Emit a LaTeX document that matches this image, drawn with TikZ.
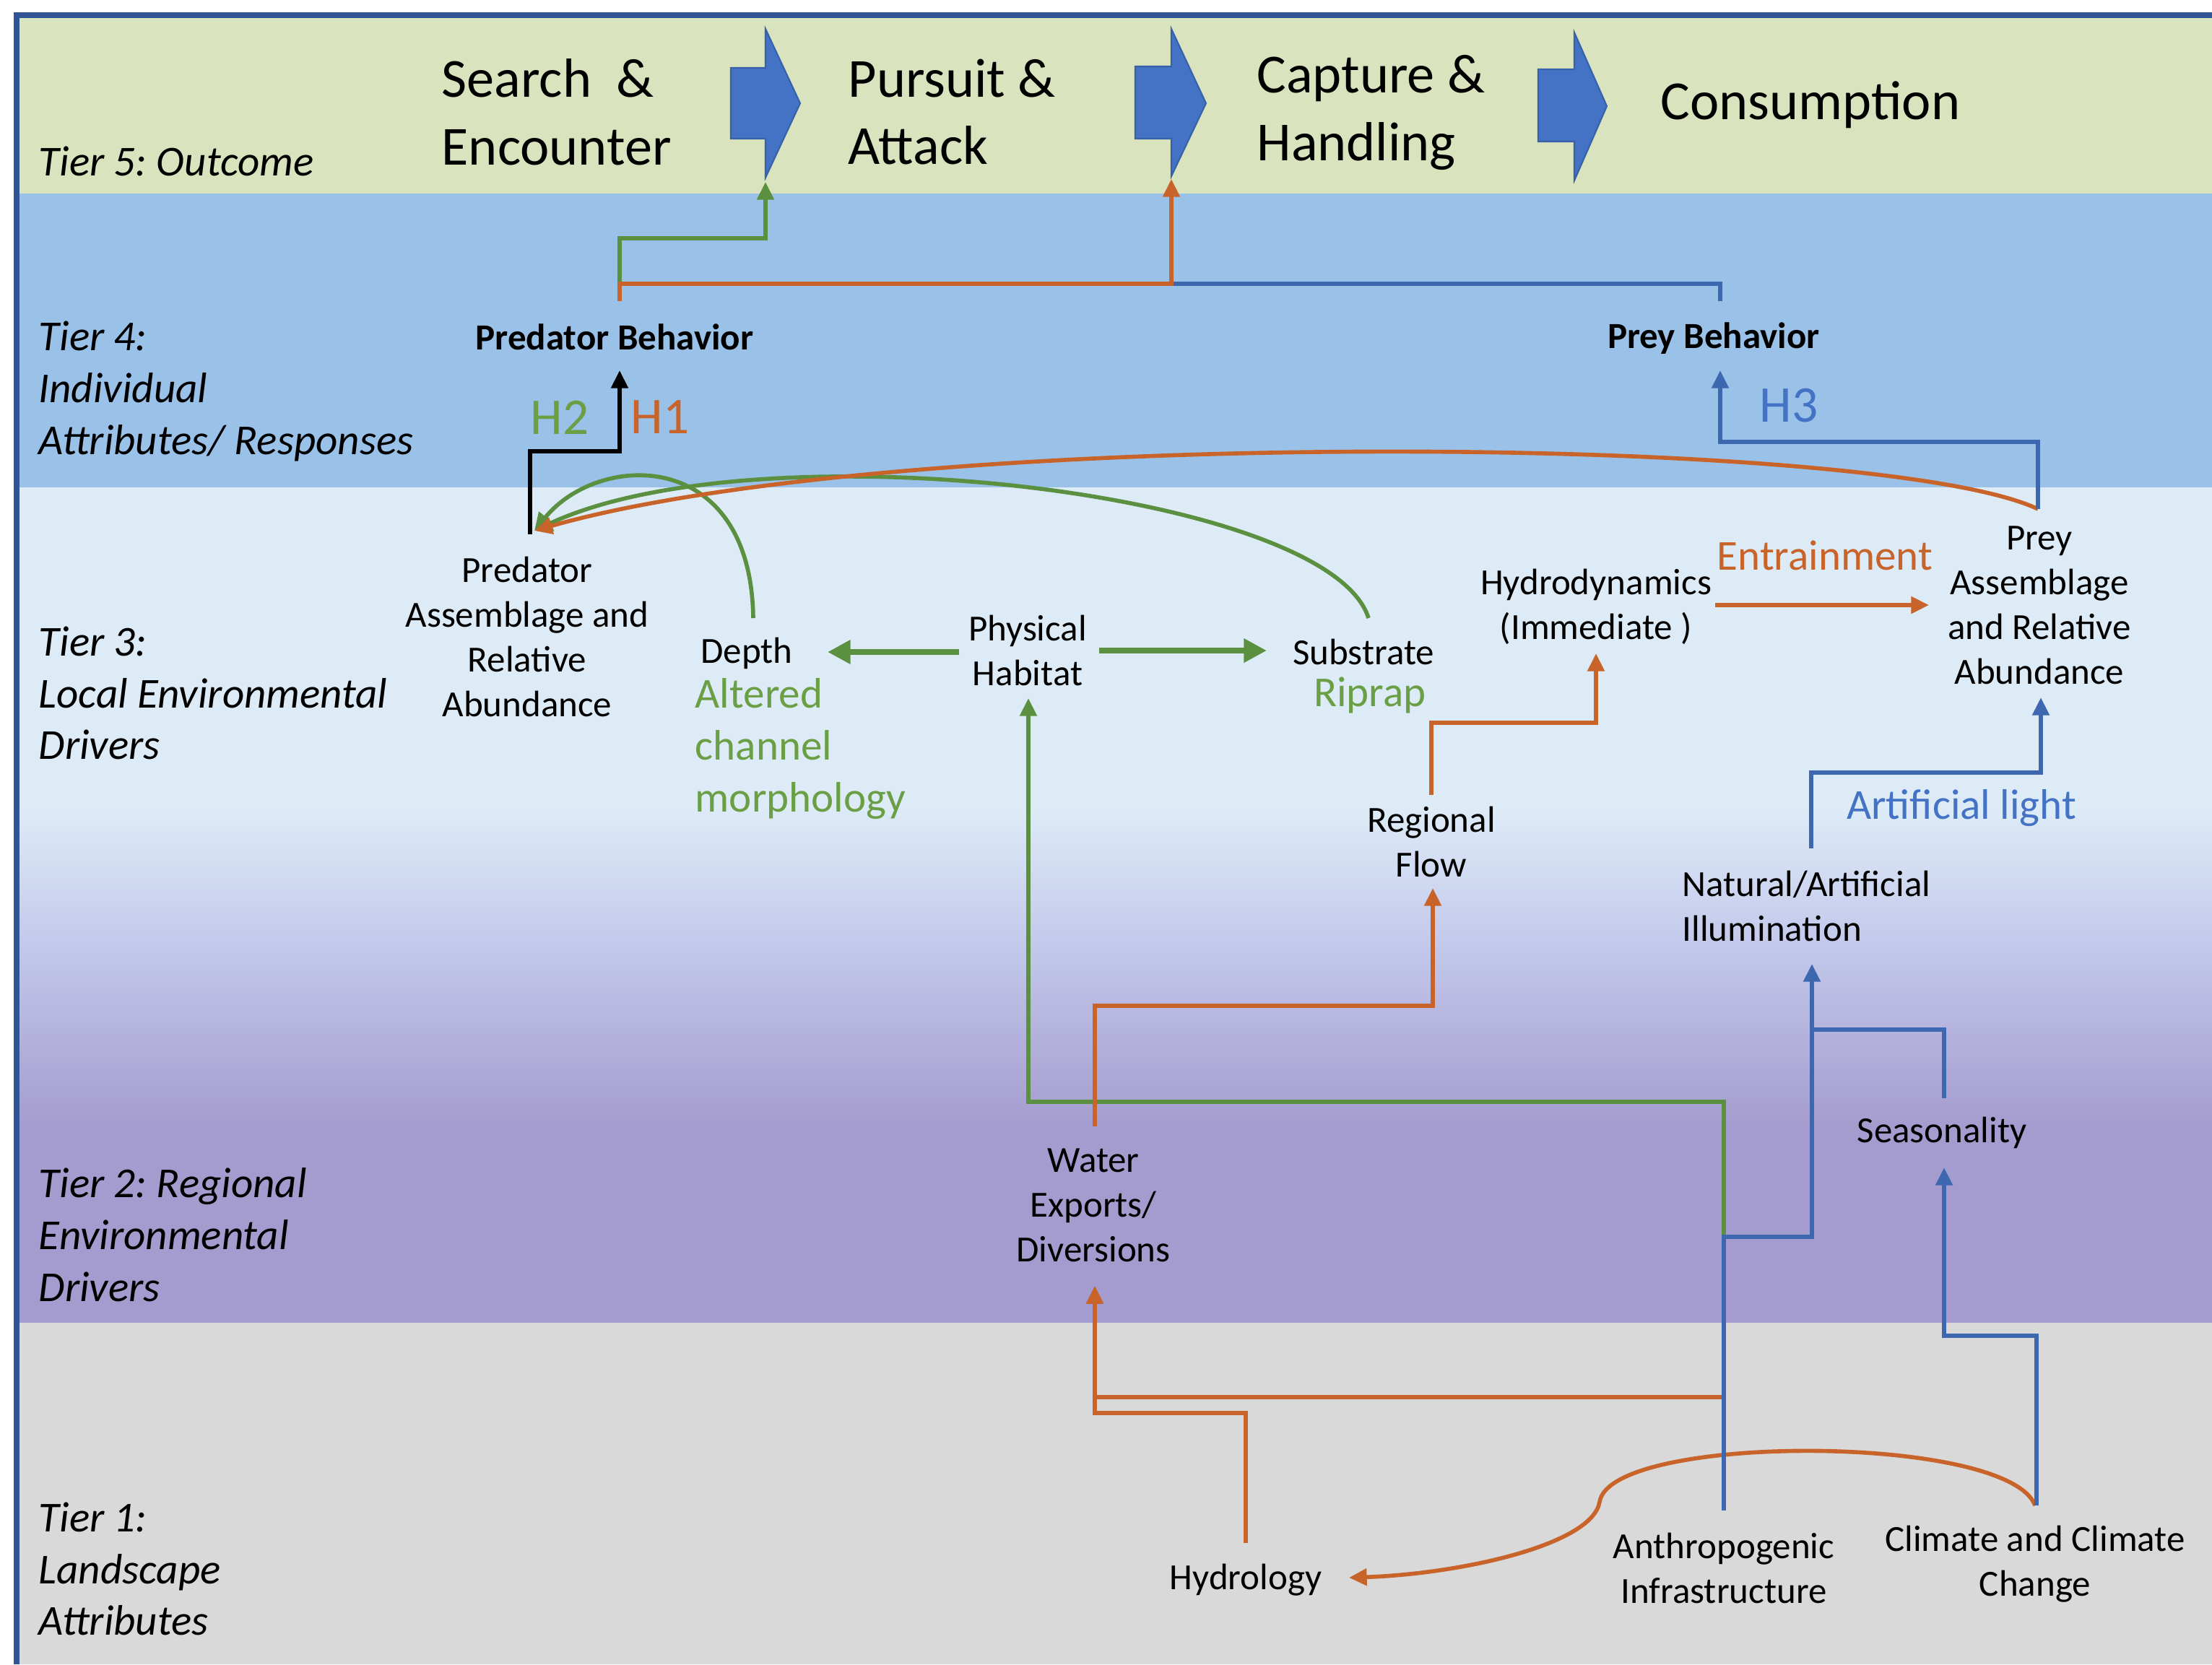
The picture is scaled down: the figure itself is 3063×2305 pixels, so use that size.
\documentclass[tikz,border=0pt]{standalone}
\usepackage{fontspec}
\setmainfont{Carlito}
\usetikzlibrary{arrows.meta,calc}
\frenchspacing

\definecolor{bandgreen}{HTML}{D9E3BE}
\definecolor{bandblue}{HTML}{9AC1E8}
\definecolor{bandlight}{HTML}{DDEBF7}
\definecolor{bandmid}{HTML}{C3C8EB}
\definecolor{bandpurple}{HTML}{A49CCE}
\definecolor{bandgray}{HTML}{D9D9D9}
\definecolor{framecol}{HTML}{2F5597}
\definecolor{stepblue}{HTML}{4472C4}
\definecolor{lnorange}{HTML}{C8642A}
\definecolor{lngreen}{HTML}{5B9040}
\definecolor{lnblue}{HTML}{3D68B0}
\definecolor{txgreen}{HTML}{6A9F45}
\definecolor{txblue}{HTML}{4472C4}

\begin{document}
\begin{tikzpicture}[x=0.01cm, y=-0.01cm,
  body/.style={font=\fontsize{14.5}{17.6}\selectfont, align=center, inner sep=0pt},
  bodyb/.style={body, font=\fontsize{14.5}{17.6}\selectfont\bfseries},
  tier/.style={font=\fontsize{16.8}{20.4}\selectfont\itshape, align=left, anchor=west, inner sep=0pt},
  stage/.style={font=\fontsize{21.7}{26.7}\selectfont, align=left, anchor=west, inner sep=0pt},
  note/.style={font=\fontsize{16.8}{20.4}\selectfont, inner sep=0pt},
  hyp/.style={font=\fontsize{20.3}{24}\selectfont, inner sep=0pt},
  conn/.style={line width=1.6pt},
  gline/.style={conn, draw=lngreen},
  oline/.style={conn, draw=lnorange},
  bline/.style={conn, draw=lnblue},
  kline/.style={conn, draw=black},
  gthick/.style={line width=2.3pt, draw=lngreen},
  arr/.style={-{Triangle[length=7pt,width=6.5pt]}},
  arrT/.style={-{Triangle[length=9pt,width=9pt]}},
  stagearrow/.style={fill=stepblue, draw=framecol!60!stepblue, line width=0.6pt}
]
\useasboundingbox (0,0) rectangle (3063,2305);

% tier bands
\fill[white] (0,0) rectangle (3063,2305);
\fill[bandgreen] (23,21) rectangle (3063,268);
\fill[bandblue] (23,268) rectangle (3063,675);
\fill[bandlight] (23,675) rectangle (3063,1121);
\shade[top color=bandlight, bottom color=bandmid] (23,1120) rectangle (3063,1311);
\shade[top color=bandmid, bottom color=bandpurple] (23,1310) rectangle (3063,1561);
\fill[bandpurple] (23,1560) rectangle (3063,1832);
\fill[bandgray] (23,1832) rectangle (3063,2305);
\draw[framecol, line width=2pt] (23,2305) -- (23,21) -- (3063,21);

% stage arrows of the outcome tier
\path[stagearrow] (1012,94) -- (1060,94) -- (1060,40) -- (1108,143) -- (1060,246) -- (1060,192) -- (1012,192) -- cycle;
\path[stagearrow] (1572,92) -- (1622,92) -- (1622,40) -- (1670,143) -- (1622,244) -- (1622,192) -- (1572,192) -- cycle;
\path[stagearrow] (2130,96) -- (2180,96) -- (2180,45) -- (2225,147) -- (2180,250) -- (2180,196) -- (2130,196) -- cycle;
\coordinate (ar1) at (1060,252);
\coordinate (ar2) at (1622,248);

% tier labels
\node[tier] (t5) at (53,223) {Tier 5: Outcome};
\node[tier] (t4) at (53,542) {Tier 4:\\Individual\\Attributes/ Responses};
\node[tier] (t3) at (53,960) {Tier 3:\\Local Environmental\\Drivers};
\node[tier] (t2) at (53,1710) {Tier 2: Regional\\Environmental\\Drivers};
\node[tier] (t1) at (53,2173) {Tier 1:\\Landscape\\Attributes};

% outcome stages
\node[stage] (s1) at (611,155) {Search~~\&\\Encounter};
\node[stage] (s2) at (1174,155) {Pursuit \&\\Attack};
\node[stage] (s3) at (1740,156) {Capture \&\\Handling};
\node[stage] (s4) at (2299,145) {Consumption};

% factors
\node[bodyb] (pb) at (851,467) {Predator Behavior};
\node[bodyb] (qb) at (2373,469) {Prey Behavior};
\node[body] (pa) at (730,882) {Predator\\Assemblage and\\Relative\\Abundance};
\node[body] (depth) at (1034,905) {Depth};
\node[note, txgreen, align=left, anchor=west] (alt) at (962,1037) {Altered\\channel\\morphology};
\node[body] (ph) at (1423,901) {Physical\\Habitat};
\node[body] (sub) at (1888,903) {Substrate};
\node[note, txgreen] (rip) at (1897,963) {Riprap};
\node[body] (hyd) at (2210,840) {Hydrodynamics\\(Immediate )};
\node[note, lnorange] (ent) at (2527,769) {Entrainment};
\node[body] (qa) at (2824,838) {Prey\\Assemblage\\and Relative\\Abundance};
\node[body] (rf) at (1982,1166) {Regional\\Flow};
\node[note, txblue] (al) at (2716,1119) {Artificial light};
\node[body, align=left, anchor=west] (ill) at (2329,1255) {Natural/Artificial\\Illumination};
\node[body] (sea) at (2689,1569) {Seasonality};
\node[body] (we) at (1514,1669) {Water\\Exports/\\Diversions};
\node[body] (hydro) at (1725,2188) {Hydrology};
\node[body] (ai) at (2387,2172) {Anthropogenic\\Infrastructure};
\node[body] (cc) at (2818,2166) {Climate and Climate\\Change};
\node[hyp, txgreen] (h2) at (775,578) {H2};
\node[hyp, lnorange] (h1) at (914,578) {H1};
\node[hyp, txblue] (h3) at (2477,562) {H3};

% green links
\draw[gline, arr] ($(pb)+(7,-50)$) -- ++(0,-87) -| (ar1);
\draw[gline, arr] ($(depth)+(9,-49)$) .. controls (1040,620) and (830,625) .. ($(pa)+(10,-147)$);
\draw[gline, arr] ($(sub)+(7,-47)$) .. controls (1840,680) and (1050,590) .. ($(pa)+(10,-147)$);
\draw[gthick, arrT] ($(ph)+(-95,2)$) -- ($(depth)+(112,-2)$);
\draw[gthick, arrT] ($(ph)+(99,0)$) -- ($(sub)+(-134,-2)$);
\draw[gline, arr] ($(ai)+(0,-459)$) -- ++(0,-187) -| ($(ph)+(1,66)$);

% orange links
\draw[bline] ($(qb)+(9,-52)$) -- ++(0,-24) -- ($(ar2)+(0,145)$);
\draw[oline, arr] ($(pb)+(7,-50)$) -- ++(0,-24) -| (ar2);
\draw[oline, arr] ($(qa)+(-2,-133)$) .. controls (2600,600) and (1250,590) .. ($(pa)+(10,-147)$);
\draw[oline, arr] ($(hyd)+(165,-2)$) -- ($(qa)+(-153,0)$);
\draw[oline, arr] ($(rf)+(0,-65)$) -- ++(0,-100) -| ($(hyd)+(0,65)$);
\draw[oline, arr] ($(we)+(2,-109)$) -- ++(0,-167) -| ($(rf)+(2,64)$);
\draw[oline, arr] ($(ai)+(0,-237)$) -| ($(we)+(2,112)$);
\draw[oline, arr] ($(hydro)+(0,-51)$) -- ++(0,-180) -| ($(we)+(2,112)$);
\draw[oline, arr] ($(cc)+(0,-81)$) .. controls (2780,1985) and (2230,1985) .. ($(ai)+(-172,-92)$)
  .. controls (2205,2140) and (2020,2180) .. ($(hydro)+(143,-3)$);

% blue links
\draw[bline, arr] ($(qa)+(-2,-133)$) -- ++(0,-93) -| ($(qb)+(9,44)$);
\draw[bline, arr] ($(ill.west)+(179,-80)$) -- ++(0,-105) -| ($(qa)+(2,128)$);
\draw[bline, arr] ($(ai)+(0,-80)$) -- ++(0,-379) -| ($(ill.west)+(180,80)$);
\draw[bline] ($(sea)+(3,-48)$) |- ($(ill.west)+(180,171)$);
\draw[bline, arr] ($(cc)+(2,-81)$) -- ++(0,-235) -| ($(sea)+(3,48)$);

% combined hypotheses H1/H2
\draw[kline, arr] ($(pa)+(4,-142)$) -- ++(0,-115) -| ($(pb)+(7,46)$);
\end{tikzpicture}
\end{document}
